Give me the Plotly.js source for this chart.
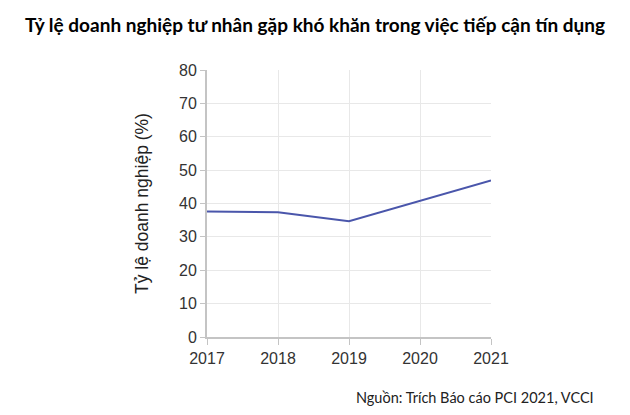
<!DOCTYPE html>
<html><head><meta charset="utf-8">
<script src="https://cdn.plot.ly/plotly-3.0.1.min.js"></script>
<style>html,body{margin:0;padding:0;background:#fff}#chart{width:630px;height:415px}</style>
</head><body><div id="chart"></div>
<script>
const years = ['2017','2018','2019','2020','2021'];
const shareFirms = [37.6, 37.4, 34.7, 40.8, 46.9];
const yTicks = [0,10,20,30,40,50,60,70,80];

const tickFont = {family: '"Liberation Sans", Arial, sans-serif', size: 16, color: '#333'};

Plotly.newPlot('chart', [{
  x: years, y: shareFirms, type: 'scatter', mode: 'lines',
  line: {color: '#4a56ab', width: 2}, hoverinfo: 'skip'
}], {
  width: 630, height: 415,
  margin: {l: 207, r: 139, t: 70, b: 78},
  paper_bgcolor: '#fff', plot_bgcolor: '#fff',
  showlegend: false,
  title: {text: '<b>Tỷ lệ doanh nghiệp tư nhân gặp khó khăn trong việc tiếp cận tín dụng</b>',
    font: {family: 'Lato, "Open Sans", sans-serif', size: 19, color: '#000'},
    x: 0.5, xanchor: 'center', y: 0.94, yanchor: 'middle'},
  xaxis: {
    type: 'category', range: [0, 4],
    showgrid: true, gridcolor: '#e8e8e8', gridwidth: 1,
    showline: true, linecolor: '#c4c4c4', linewidth: 2,
    ticks: 'outside', ticklen: 6, tickcolor: '#c4c4c4', tickwidth: 1,
    tickfont: tickFont, zeroline: false, fixedrange: true
  },
  yaxis: {
    range: [0, 80], tickvals: yTicks,
    showgrid: true, gridcolor: '#e8e8e8', gridwidth: 1,
    showline: true, linecolor: '#c4c4c4', linewidth: 2,
    ticks: 'outside', ticklen: 5, tickcolor: '#c4c4c4', tickwidth: 1,
    tickfont: tickFont, zeroline: false, fixedrange: true,
    title: {text: 'Tỷ lệ doanh nghiệp (%)', font: {family: '"Liberation Sans", Arial, sans-serif', size: 17.5, color: '#222'}, standoff: 26}
  },
  annotations: [{
    text: 'Nguồn: Trích Báo cáo PCI 2021, VCCI', xref: 'paper', yref: 'paper',
    x: 596/630 * 630 / 284 - 207/284, y: -60/267, xanchor: 'right', yanchor: 'middle',
    font: {family: 'Lato, "Open Sans", sans-serif', size: 14.5, color: '#222'}, showarrow: false
  }]
}, {displayModeBar: false, staticPlot: true});
</script></body></html>
